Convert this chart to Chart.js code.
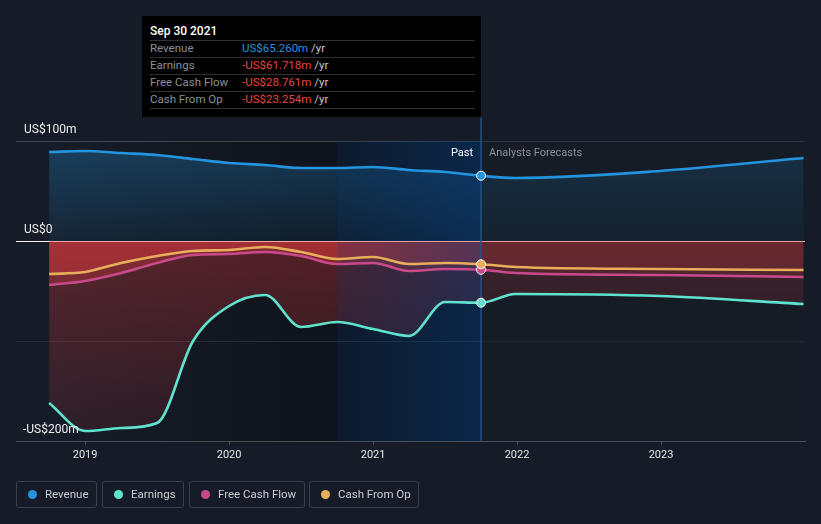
<!DOCTYPE html>
<html><head><meta charset="utf-8">
<script src="https://cdn.jsdelivr.net/npm/chart.js@4/dist/chart.umd.min.js"></script>
<style>
html,body{margin:0;padding:0;background:#161c27;width:821px;height:524px;overflow:hidden;font-family:Roboto,"Noto Sans",sans-serif;}
#wrap{position:relative;width:821px;height:524px;}
#c{position:absolute;left:0;top:0;}
#tip{position:absolute;left:142px;top:16px;width:339px;height:101px;background:#000;}
#tip .t{position:absolute;left:8px;top:8px;line-height:14px;font-size:12px;font-weight:500;color:#fff;}
#tip .ln{position:absolute;left:8px;width:325px;height:1px;background:#2e3033;}
#tip .row{position:absolute;left:8px;height:17px;line-height:17px;font-size:11.5px;color:#8b9097;white-space:nowrap;}
#tip .row .v{position:absolute;left:92px;}
#tip .row .u{color:#c9c9c9;}
.lg{position:absolute;top:481px;border:1px solid #3a3f49;border-radius:3px;box-sizing:border-box;height:27px;}
.lg i{position:absolute;left:11px;top:8px;width:9px;height:9px;border-radius:50%;}
.lg span{position:absolute;left:28px;top:0;line-height:25px;font-size:11.5px;color:#c9ccd2;white-space:nowrap;}
</style></head>
<body><div id="wrap">
<canvas id="c" width="821" height="524"></canvas>
<div id="tip">
  <div class="t">Sep 30 2021</div>
  <div class="ln" style="top:24px"></div>
  <div class="row" style="top:24px">Revenue<span class="v"><span style="color:#2394df">US$65.260m</span> <span class="u">/yr</span></span></div>
  <div class="ln" style="top:41px"></div>
  <div class="row" style="top:41px">Earnings<span class="v"><span style="color:#e8453f">-US$61.718m</span> <span class="u">/yr</span></span></div>
  <div class="ln" style="top:58px"></div>
  <div class="row" style="top:58px">Free Cash Flow<span class="v"><span style="color:#e8453f">-US$28.761m</span> <span class="u">/yr</span></span></div>
  <div class="ln" style="top:75px"></div>
  <div class="row" style="top:75px">Cash From Op<span class="v"><span style="color:#e8453f">-US$23.254m</span> <span class="u">/yr</span></span></div>
  <div class="ln" style="top:92px"></div>
</div>
<div class="lg" style="left:16px;width:81px"><i style="background:#2394df"></i><span>Revenue</span></div>
<div class="lg" style="left:102px;width:82px"><i style="background:#5fe3cf"></i><span>Earnings</span></div>
<div class="lg" style="left:189px;width:116px"><i style="background:#c94a8c"></i><span>Free Cash Flow</span></div>
<div class="lg" style="left:309px;width:110px"><i style="background:#e8ae5c"></i><span>Cash From Op</span></div>
</div>
<script>
// ---- data (US$ millions, trailing twelve months; x in decimal years) ----
const years        = [2018.75, 2019.0, 2019.25, 2019.5, 2019.75, 2020.0, 2020.25, 2020.5, 2020.75, 2021.0, 2021.25, 2021.5, 2021.75, 2021.99, 2022.99, 2023.99];
const revenue      = [89, 90, 88, 86, 82, 78, 76, 73, 73, 74, 71, 69, 65.26, 63, 70, 83];
const earnings     = [-162, -190, -187, -182, -100, -65, -54, -86, -81, -88, -95, -61, -61.718, -53, -55, -63];
const freeCashFlow = [-44, -40, -32, -22, -14, -13, -11, -15, -23, -22, -30, -28, -28.761, -32, -34, -36];
const cashFromOp   = [-33, -31, -22, -15, -10, -9, -6, -11, -18, -16, -23, -22, -23.254, -26, -28, -29];
const xTickYears   = [2019, 2020, 2021, 2022, 2023];
const yTickValues  = [100, 0, -100, -200];
const yTickLabels  = ['US$100m', 'US$0', '', '-US$200m'];
const pastEnd = 2021.75, bandStart = 2020.75;
const markerIndex = 12;

const BG = '#161c27';
const pts = arr => arr.map((v, i) => ({x: years[i], y: v}));

function grad(ctx, y0, y1, c0, c1) {
  const g = ctx.createLinearGradient(0, y0, 0, y1);
  g.addColorStop(0, c0); g.addColorStop(1, c1); return g;
}
function blueFill(c) {
  const ch = c.chart; if (!ch.chartArea) return 'rgba(35,148,223,0.2)';
  const y = ch.scales.y;
  return grad(ch.ctx, y.getPixelForValue(100), y.getPixelForValue(0), 'rgba(35,148,223,0.30)', 'rgba(35,148,223,0.08)');
}
function redFill(c) {
  const ch = c.chart; if (!ch.chartArea) return 'rgba(229,57,60,0.2)';
  const y = ch.scales.y;
  return grad(ch.ctx, y.getPixelForValue(0), y.getPixelForValue(-200), 'rgba(226,58,62,0.33)', 'rgba(226,58,62,0.10)');
}
function ds(label, data, color, fillFn) {
  return {
    label, data: pts(data), borderColor: color, borderWidth: 2.6,
    backgroundColor: fillFn, fill: 'origin',
    cubicInterpolationMode: 'monotone',
    pointRadius: c => c.dataIndex === markerIndex ? 4.5 : 0,
    pointBackgroundColor: color, pointBorderColor: '#ffffff', pointBorderWidth: 1
  };
}

const deco = {
  id: 'deco',
  beforeDraw(chart) {
    const {ctx, chartArea: a, scales: {x}} = chart;
    ctx.save();
    ctx.fillStyle = BG; ctx.fillRect(0, 0, chart.width, chart.height);
    const x0 = x.getPixelForValue(years[0]), xb = x.getPixelForValue(bandStart), xp = x.getPixelForValue(pastEnd);
    const g = ctx.createLinearGradient(x0, 0, xb, 0);
    g.addColorStop(0, 'rgba(4,6,9,0)'); g.addColorStop(1, 'rgba(4,6,9,0.4)');
    ctx.fillStyle = g; ctx.fillRect(x0, a.top, xb - x0, a.bottom - a.top);
    ctx.fillStyle = 'rgba(4,6,9,0.4)'; ctx.fillRect(xb, a.top, xp - xb, a.bottom - a.top);
    ctx.restore();
  },
  beforeDatasetsDraw(chart) {
    const {ctx, chartArea: a, scales: {x, y}} = chart;
    const xb = x.getPixelForValue(bandStart), xp = x.getPixelForValue(pastEnd), x0 = x.getPixelForValue(years[0]);
    ctx.save();
    // future dimming
    ctx.fillStyle = 'rgba(22,28,39,0.42)';
    ctx.fillRect(xp, a.top, a.right - xp, a.bottom - a.top);
    // last-year blue band
    const g = ctx.createLinearGradient(xb, 0, xp, 0);
    g.addColorStop(0, 'rgba(6,60,120,0.18)'); g.addColorStop(1, 'rgba(6,60,120,0.5)');
    ctx.fillStyle = g; ctx.fillRect(xb, a.top, xp - xb, a.bottom - a.top);
    // zero line
    const y0 = Math.round(y.getPixelForValue(0)) + 0.5;
    ctx.lineWidth = 1;
    ctx.strokeStyle = 'rgba(255,185,185,0.75)';
    ctx.beginPath(); ctx.moveTo(x0, y0); ctx.lineTo(a.right, y0); ctx.stroke();
    // past marker line
    ctx.strokeStyle = 'rgba(35,80,135,0.75)'; ctx.lineWidth = 2;
    ctx.beginPath(); ctx.moveTo(xp, 117); ctx.lineTo(xp, a.bottom); ctx.stroke();
    // past / forecast labels
    ctx.font = '11px Roboto, sans-serif'; ctx.textBaseline = 'middle';
    ctx.textAlign = 'right'; ctx.fillStyle = '#ffffff'; ctx.fillText('Past', xp - 8, 153);
    ctx.textAlign = 'left'; ctx.fillStyle = '#8c9199'; ctx.fillText('Analysts Forecasts', xp + 8, 153);
    ctx.restore();
  },
  afterDatasetsDraw(chart) {
    const {ctx, scales: {y}} = chart;
    ctx.save();
    ctx.font = '12px Roboto, sans-serif'; ctx.textBaseline = 'middle'; ctx.textAlign = 'left'; ctx.fillStyle = '#eeeeee';
    yTickValues.forEach((v, i) => {
      if (!yTickLabels[i]) return;
      ctx.fillText(yTickLabels[i], v < 0 ? 23 : 24, y.getPixelForValue(v) - 11);
    });
    ctx.restore();
  }
};

new Chart(document.getElementById('c'), {
  type: 'line',
  data: { datasets: [
    ds('Revenue', revenue, '#2394df', blueFill),
    ds('Earnings', earnings, '#5fe3cf', redFill),
    ds('Cash From Op', cashFromOp, '#e8ae5c', redFill),
    ds('Free Cash Flow', freeCashFlow, '#c94a8c', redFill)
  ]},
  options: {
    responsive: false, animation: false, events: [],
    layout: { padding: { left: 16, right: 16, top: 141, bottom: 53 } },
    plugins: { legend: {display: false}, tooltip: {enabled: false}, filler: {drawTime: 'beforeDatasetsDraw'} },
    scales: {
      x: {
        type: 'linear', min: 2018.52, max: 2024.0,
        afterBuildTicks: s => { s.ticks = xTickYears.map(v => ({value: v})); },
        afterFit: s => { s.height = 30; },
        ticks: { color: '#e6e6e6', font: {family: 'Roboto', size: 11}, padding: 4, maxRotation: 0, callback: v => String(v) },
        grid: { drawOnChartArea: false, drawTicks: true, tickLength: 4, color: '#4a4f58' },
        border: { display: true, color: '#4a4f58', width: 1 }
      },
      y: {
        min: -200, max: 100,
        afterBuildTicks: s => { s.ticks = yTickValues.map(v => ({value: v})); },
        afterFit: s => { s.width = 0; },
        ticks: { display: false },
        grid: { drawTicks: false, lineWidth: 1,
          color: c => c.tick.value === 0 ? '#f2f2f2' : c.tick.value === 100 ? '#40454e' : c.tick.value === -100 ? '#272c35' : '#4a4f58' },
        border: { display: false }
      }
    }
  },
  plugins: [deco]
});
</script>
</body></html>
